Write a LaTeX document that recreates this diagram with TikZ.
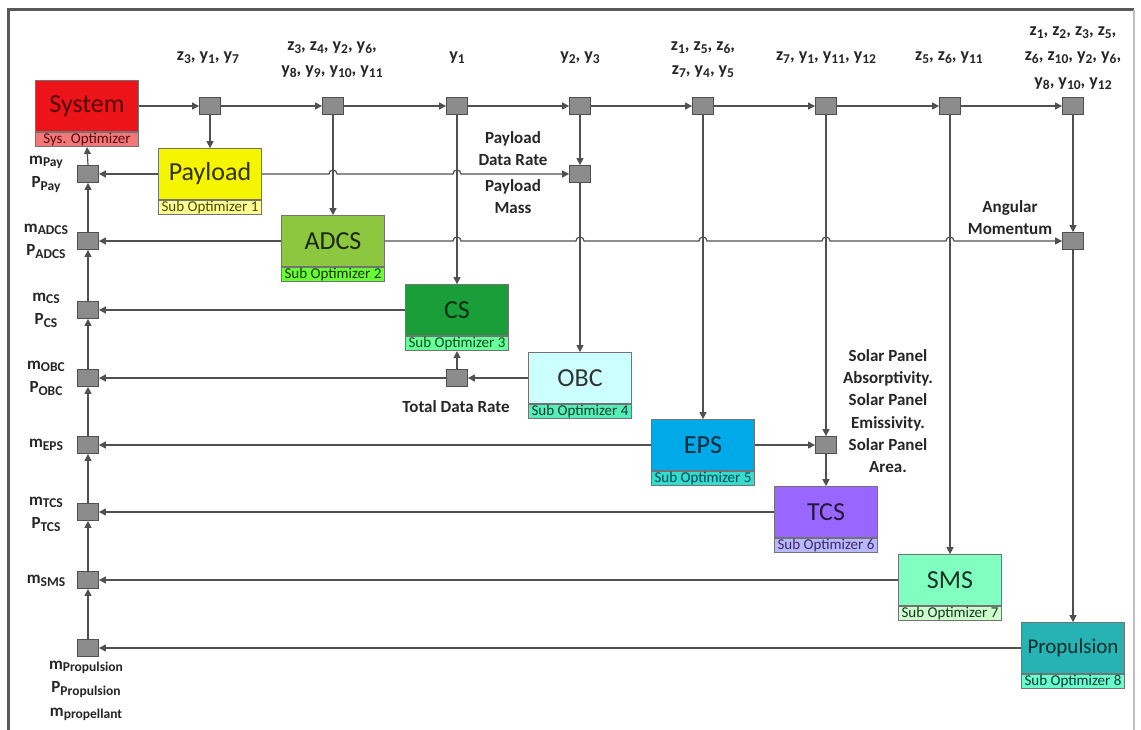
\documentclass[tikz,border=0pt]{standalone}
\usepackage{fontspec}
\setmainfont{Carlito}
\usetikzlibrary{arrows.meta}
\definecolor{ln}{RGB}{80,80,80}
\definecolor{sqf}{RGB}{140,140,140}
\definecolor{cSys}{RGB}{236,20,24}\definecolor{bSys}{RGB}{240,120,120}
\definecolor{cPay}{RGB}{245,245,0}\definecolor{bPay}{RGB}{255,255,150}
\definecolor{cAdc}{RGB}{141,198,63}\definecolor{bAdc}{RGB}{102,255,51}
\definecolor{cCs}{RGB}{26,158,58}\definecolor{bCs}{RGB}{102,255,153}
\definecolor{cObc}{RGB}{204,255,255}\definecolor{bObc}{RGB}{85,238,187}
\definecolor{cEps}{RGB}{0,169,232}\definecolor{bEps}{RGB}{51,221,204}
\definecolor{cTcs}{RGB}{153,102,255}\definecolor{bTcs}{RGB}{184,184,255}
\definecolor{cSms}{RGB}{128,255,192}\definecolor{bSms}{RGB}{204,255,204}
\definecolor{cPro}{RGB}{39,179,179}\definecolor{bPro}{RGB}{102,255,204}
\newcommand\sbs[1]{\raisebox{-0.3ex}{\fontsize{13.5}{14}\selectfont #1}}
\begin{document}
\begin{tikzpicture}[x=1pt,y=-1pt,
 conn/.style={draw=ln,line width=1.2pt,-{Triangle[length=7pt,width=7pt]}},
 sq/.style={draw=ln,fill=sqf,minimum width=21pt,minimum height=17pt,inner sep=0pt,line width=0.8pt},
 mainbox/.style={draw=black!55,line width=0.7pt,minimum width=103pt,minimum height=51pt,inner sep=0pt,font=\fontsize{26}{28}\selectfont},
 band/.style={draw=black!55,line width=0.7pt,minimum width=103pt,minimum height=14.5pt,inner sep=0pt,font=\fontsize{15}{15}\selectfont,anchor=north},
 lab/.style={font=\bfseries\fontsize{17}{23.5}\selectfont,align=center,text=black!85,inner sep=0pt},
 toplab/.style={lab,font=\bfseries\fontsize{18}{24}\selectfont},
]
\useasboundingbox (0,0) rectangle (1141,730);
\fill[white] (0,0) rectangle (1141,730);
\draw[black!65,line width=3pt] (8,745) -- (8,10) -- (1134,10);
\draw[black!25,line width=1.5pt] (1134,10) -- (1134,745);

% top squares
\node[sq] (t1) at (210,106) {};
\node[sq] (t2) at (333,106) {};
\node[sq] (t3) at (457,106) {};
\node[sq] (t4) at (580,106) {};
\node[sq] (t5) at (703,106) {};
\node[sq] (t6) at (826,106) {};
\node[sq] (t7) at (950,106) {};
\node[sq] (t8) at (1073,106) {};
% left squares
\node[sq] (l1) at (88,174) {};
\node[sq] (l2) at (88,241) {};
\node[sq] (l3) at (88,310) {};
\node[sq] (l4) at (88,378) {};
\node[sq] (l5) at (88,445) {};
\node[sq] (l6) at (88,512) {};
\node[sq] (l7) at (88,580) {};
\node[sq] (l8) at (88,648) {};
% inner squares
\node[sq] (pd) at (580,174) {};
\node[sq] (am) at (1073,241) {};
\node[sq] (td) at (457,378) {};
\node[sq] (sp) at (826,445) {};

% boxes
\node[mainbox,fill=cSys,text=cSys!35!black] (sys) at (87,106) {System};
\node[band,fill=bSys,text=cSys!40!black] (sysb) at (sys.south) {Sys. Optimizer};
\node[mainbox,fill=cPay,text=cPay!20!black] (pay) at (210,174) {Payload};
\node[band,fill=bPay,text=cPay!30!black] (payb) at (pay.south) {Sub Optimizer 1};
\node[mainbox,fill=cAdc,text=cAdc!20!black] (adc) at (333,241) {ADCS};
\node[band,fill=bAdc,text=cAdc!25!black] (adcb) at (adc.south) {Sub Optimizer 2};
\node[mainbox,fill=cCs,text=cCs!30!black] (cs) at (457,310) {CS};
\node[band,fill=bCs,text=cCs!50!black] (csb) at (cs.south) {Sub Optimizer 3};
\node[mainbox,fill=cObc,text=black!80] (obc) at (580,378) {OBC};
\node[band,fill=bObc,text=bObc!25!black] (obcb) at (obc.south) {Sub Optimizer 4};
\node[mainbox,fill=cEps,text=cEps!25!black] (eps) at (703,445) {EPS};
\node[band,fill=bEps,text=cEps!40!black] (epsb) at (eps.south) {Sub Optimizer 5};
\node[mainbox,fill=cTcs,text=cTcs!25!black] (tcs) at (826,512) {TCS};
\node[band,fill=bTcs,text=cTcs!40!black] (tcsb) at (tcs.south) {Sub Optimizer 6};
\node[mainbox,fill=cSms,text=cSms!20!black] (sms) at (950,580) {SMS};
\node[band,fill=bSms,text=cSms!20!black] (smsb) at (sms.south) {Sub Optimizer 7};
\node[mainbox,fill=cPro,text=cPro!25!black,font=\fontsize{21}{23}\selectfont] (pro) at (1073,648) {Propulsion};
\node[band,fill=bPro,text=cPro!30!black] (prob) at (pro.south) {Sub Optimizer 8};

% top chain
\draw[conn] (sys.east) -- (t1.west);
\draw[conn] (t1.east) -- (t2.west);
\draw[conn] (t2.east) -- (t3.west);
\draw[conn] (t3.east) -- (t4.west);
\draw[conn] (t4.east) -- (t5.west);
\draw[conn] (t5.east) -- (t6.west);
\draw[conn] (t6.east) -- (t7.west);
\draw[conn] (t7.east) -- (t8.west);
% drops
\draw[conn] (t1.south) -- (pay.north);
\draw[conn] (t2.south) -- (adc.north);
\draw[conn] (t3.south) -- (cs.north);
\draw[conn] (t4.south) -- (pd.north);
\draw[conn] (pd.south) -- (obc.north);
\draw[conn] (t5.south) -- (eps.north);
\draw[conn] (t6.south) -- (sp.north);
\draw[conn] (sp.south) -- (tcs.north);
\draw[conn] (t7.south) -- (sms.north);
\draw[conn] (t8.south) -- (am.north);
\draw[conn] (am.south) -- (pro.north);
% horizontals with hops
\draw[conn] (pay.east) -- ([xshift=-4pt]t2 |- pay.east) arc[start angle=180,end angle=0,radius=4pt]
  -- ([xshift=-4pt]t3 |- pay.east) arc[start angle=180,end angle=0,radius=4pt] -- (pd.west);
\draw[conn] (adc.east) -- ([xshift=-4pt]t3 |- adc.east) arc[start angle=180,end angle=0,radius=4pt]
  -- ([xshift=-4pt]t4 |- adc.east) arc[start angle=180,end angle=0,radius=4pt]
  -- ([xshift=-4pt]t5 |- adc.east) arc[start angle=180,end angle=0,radius=4pt]
  -- ([xshift=-4pt]t6 |- adc.east) arc[start angle=180,end angle=0,radius=4pt]
  -- ([xshift=-4pt]t7 |- adc.east) arc[start angle=180,end angle=0,radius=4pt] -- (am.west);
\draw[conn] (eps.east) -- (sp.west);
\draw[conn] (obc.west) -- (td.east);
\draw[conn] (td.north) -- (csb.south);
% returns to left bus
\draw[conn] (pay.west) -- (l1.east);
\draw[conn] (adc.west) -- (l2.east);
\draw[conn] (cs.west) -- (l3.east);
\draw[conn] (td.west) -- (l4.east);
\draw[conn] (eps.west) -- (l5.east);
\draw[conn] (tcs.west) -- (l6.east);
\draw[conn] (sms.west) -- (l7.east);
\draw[conn] (pro.west) -- (l8.east);
% left bus
\draw[conn] (l8.north) -- (l7.south);
\draw[conn] (l7.north) -- (l6.south);
\draw[conn] (l6.north) -- (l5.south);
\draw[conn] (l5.north) -- (l4.south);
\draw[conn] (l4.north) -- (l3.south);
\draw[conn] (l3.north) -- (l2.south);
\draw[conn] (l2.north) -- (l1.south);
\draw[conn] (l1.north) -- (sysb.south);

% top labels
\node[toplab] (k1) at (208,58) {z\sbs{3}, y\sbs{1}, y\sbs{7}};
\node[toplab] (k2) at (332,60) {z\sbs{3}, z\sbs{4}, y\sbs{2}, y\sbs{6},\\y\sbs{8}, y\sbs{9}, y\sbs{10}, y\sbs{11}};
\node[toplab] (k3) at (457,58) {y\sbs{1}};
\node[toplab] (k4) at (580,58) {y\sbs{2}, y\sbs{3}};
\node[toplab] (k5) at (703,60) {z\sbs{1}, z\sbs{5}, z\sbs{6},\\z\sbs{7}, y\sbs{4}, y\sbs{5}};
\node[toplab] (k6) at (826,58) {z\sbs{7}, y\sbs{1}, y\sbs{11}, y\sbs{12}};
\node[toplab] (k7) at (949,58) {z\sbs{5}, z\sbs{6}, y\sbs{11}};
\node[toplab,font=\bfseries\fontsize{18}{25.5}\selectfont] (k8) at (1073,58) {z\sbs{1}, z\sbs{2}, z\sbs{3}, z\sbs{5},\\z\sbs{6}, z\sbs{10}, y\sbs{2}, y\sbs{6},\\y\sbs{8}, y\sbs{10}, y\sbs{12}};
% left labels
\node[lab] (m1) at (46,174) {m\sbs{Pay}\\P\sbs{Pay}};
\node[lab] (m2) at (46,241) {m\sbs{ADCS}\\P\sbs{ADCS}};
\node[lab] (m3) at (46,310) {m\sbs{CS}\\P\sbs{CS}};
\node[lab] (m4) at (46,378) {m\sbs{OBC}\\P\sbs{OBC}};
\node[lab] (m5) at (46,445) {m\sbs{EPS}};
\node[lab] (m6) at (46,514) {m\sbs{TCS}\\P\sbs{TCS}};
\node[lab] (m7) at (46,581) {m\sbs{SMS}};
\node[lab] (m8) at (86,691) {m\sbs{Propulsion}\\P\sbs{Propulsion}\\m\sbs{propellant}};
% inner labels
\node[lab,font=\bfseries\fontsize{17}{22}\selectfont] (n1) at (513,149) {Payload\\Data Rate};
\node[lab,font=\bfseries\fontsize{17}{22}\selectfont] (n2) at (513,197) {Payload\\Mass};
\node[lab] (n3) at (456,407) {Total Data Rate};
\node[lab,font=\bfseries\fontsize{17}{22}\selectfont] (n4) at (1010,218) {Angular\\Momentum};
\node[lab,font=\bfseries\fontsize{17}{22.2}\selectfont] (n5) at (888,411) {Solar Panel\\Absorptivity.\\Solar Panel\\Emissivity.\\Solar Panel\\Area.};
\end{tikzpicture}
\end{document}
